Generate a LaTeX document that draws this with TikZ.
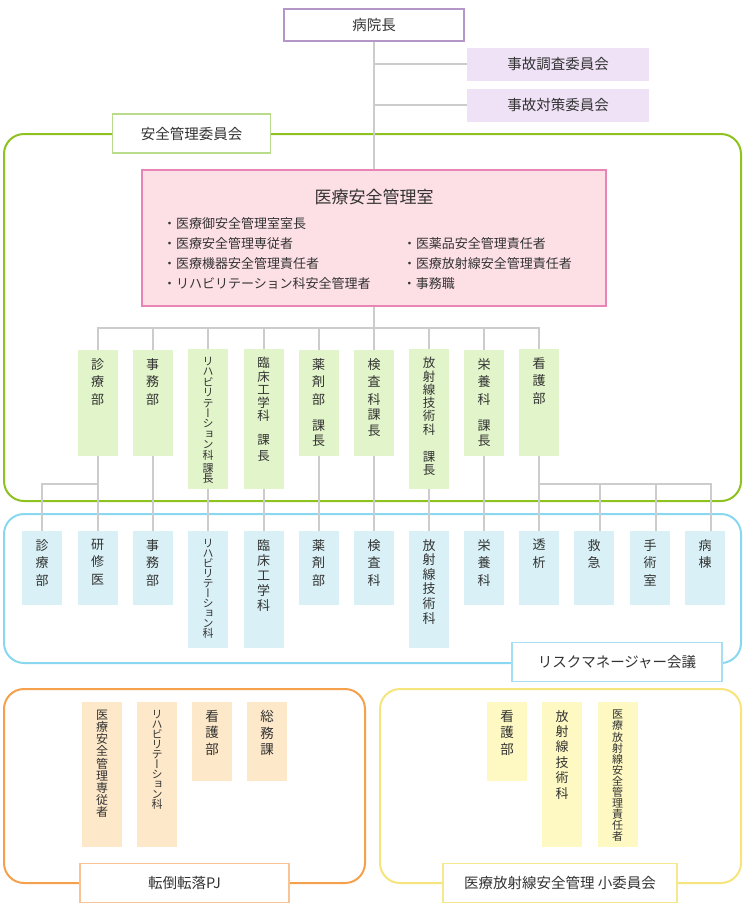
\documentclass[tikz,border=0pt]{standalone}
\usepackage{fontspec}
\setmainfont{Noto Sans CJK JP}
\newfontfamily\vjp[RawFeature=+vert]{Noto Sans CJK JP}
\definecolor{ink}{HTML}{333333}
\definecolor{connline}{HTML}{CCCCCC}
\definecolor{chiefline}{HTML}{B496C8}
\definecolor{jikofill}{HTML}{EFE2F6}
\definecolor{gframe}{HTML}{8DC21F}
\definecolor{glabel}{HTML}{B9DC8C}
\definecolor{gfill}{HTML}{E2F4C9}
\definecolor{roomline}{HTML}{E985B4}
\definecolor{roomfill}{HTML}{FDE0E6}
\definecolor{bframe}{HTML}{8AD8F0}
\definecolor{bfill}{HTML}{D9F1F6}
\definecolor{blabel}{HTML}{A5E0F2}
\definecolor{oframe}{HTML}{F5A04A}
\definecolor{ofill}{HTML}{FDE8C9}
\definecolor{olabel}{HTML}{F9C495}
\definecolor{yframe}{HTML}{F6E47C}
\definecolor{yfill}{HTML}{FEF9C3}
\definecolor{ylabel}{HTML}{F6E88E}
% vertical text column: height, text
\newcommand{\tate}[2]{\parbox[c][#1pt][t]{40pt}{\centering\lineskiplimit=-20pt\vspace*{8pt}#2}}
\tikzstyle{chiefbox} = [draw=chiefline, line width=1.5pt, fill=white, text=ink,
    minimum width=180pt, minimum height=32pt, font=\fontsize{14.5}{16}\selectfont]
\tikzstyle{jikobox} = [fill=jikofill, text=ink, minimum width=182pt, minimum height=33pt,
    font=\fontsize{14.5}{16}\selectfont]
\tikzstyle{tagbox} = [fill=white, text=ink, line width=1.2pt, minimum height=39pt,
    font=\fontsize{14.5}{16}\selectfont]
\tikzstyle{roombox} = [draw=roomline, line width=2pt, fill=roomfill, text=ink,
    minimum width=464pt, minimum height=136pt, inner sep=0pt]
\tikzstyle{tatebox} = [inner sep=0pt, anchor=north, text=ink, font=\vjp\fontsize{13}{17.5}\selectfont]
\tikzstyle{gbox} = [tatebox, fill=gfill]
\tikzstyle{bbox} = [tatebox, fill=bfill]
\tikzstyle{obox} = [tatebox, fill=ofill]
\tikzstyle{ybox} = [tatebox, fill=yfill]
\tikzstyle{frame} = [line width=2pt, rounded corners=20pt]
\tikzstyle{conn} = [draw=connline, line width=2pt]

\begin{document}
\begin{tikzpicture}[x=1pt, y=-1pt]
    \useasboundingbox (0,0) rectangle (745,919);
    % group frames
    \draw[frame, draw=gframe] (4,134) rectangle (741,501);
    \draw[frame, draw=bframe] (4,514) rectangle (741,663);
    \draw[frame, draw=oframe] (4,689) rectangle (365,883);
    \draw[frame, draw=yframe] (380,689) rectangle (741,883);

    \node[chiefbox] (chief) at (374,25) {病院長};
    \node[jikobox] (jiko1) at (558,64) {事故調査委員会};
    \node[jikobox] (jiko2) at (558,105) {事故対策委員会};
    \node[tagbox, draw=glabel, minimum width=158pt] (anzen) at (191.5,133.5) {安全管理委員会};

    \node[roombox] (room) at (374,238) {%
        \fontsize{13}{20}\selectfont
        \begin{tabular}{@{}p{240pt}@{}p{182pt}@{}}
        \multicolumn{2}{c}{\rule{0pt}{22pt}\fontsize{17}{20}\selectfont 医療安全管理室}\\[5pt]
        ・医療御安全管理室室長 & \\
        ・医療安全管理専従者 & ・医薬品安全管理責任者\\
        ・医療機器安全管理責任者 & ・医療放射線安全管理責任者\\
        ・リハビリテーション科安全管理者 & ・事務職
        \end{tabular}};

    % section heads
    \node[gbox] (g1) at (97.5,350) {\tate{106}{診\\療\\部}};
    \node[gbox] (g2) at (152.5,350) {\tate{106}{事\\務\\部}};
    \node[gbox, font=\vjp\fontsize{11}{10.4}\selectfont] (g3) at (208,349)
        {\tate{140}{リ\\ハ\\ビ\\リ\\テ\\ー\\シ\\ョ\\ン\\科\\[3pt]課\\長}};
    \node[gbox, font=\vjp\fontsize{12.5}{13.3}\selectfont] (g4) at (263.5,349)
        {\tate{140}{臨\\床\\工\\学\\科\\[10pt]課\\[3pt]長}};
    \node[gbox] (g5) at (318.5,350) {\tate{106}{薬\\剤\\部\\[9pt]課\\[-3pt]長}};
    \node[gbox] (g6) at (374,350) {\tate{106}{検\\査\\科\\[-2pt]課\\[-2pt]長}};
    \node[gbox, font=\vjp\fontsize{12.5}{13.3}\selectfont] (g7) at (429,349)
        {\tate{140}{放\\射\\線\\技\\術\\科\\[14pt]課\\長}};
    \node[gbox] (g8) at (484,350) {\tate{106}{栄\\養\\科\\[9pt]課\\[-3pt]長}};
    \node[gbox] (g9) at (539,349) {\tate{107}{看\\護\\部}};

    % risk managers
    \node[bbox] (b1) at (42,531) {\tate{74}{診\\療\\部}};
    \node[bbox] (b2) at (97.5,531) {\tate{74}{研\\修\\医}};
    \node[bbox] (b3) at (152.5,531) {\tate{74}{事\\務\\部}};
    \node[bbox, font=\vjp\fontsize{11}{10}\selectfont] (b4) at (208,531)
        {\tate{117}{リ\\ハ\\ビ\\リ\\テ\\ー\\シ\\ョ\\ン\\科}};
    \node[bbox, font=\vjp\fontsize{13}{15}\selectfont] (b5) at (263.5,531)
        {\tate{117}{臨\\床\\工\\学\\科}};
    \node[bbox] (b6) at (318.5,531) {\tate{74}{薬\\剤\\部}};
    \node[bbox] (b7) at (374,531) {\tate{74}{検\\査\\科}};
    \node[bbox, font=\vjp\fontsize{13}{14.6}\selectfont] (b8) at (429,531)
        {\tate{117}{放\\射\\線\\技\\術\\科}};
    \node[bbox] (b9) at (484,531) {\tate{74}{栄\\養\\科}};
    \node[bbox] (b10) at (539,531) {\tate{74}{透\\析}};
    \node[bbox] (b11) at (594,531) {\tate{74}{救\\急}};
    \node[bbox] (b12) at (650,531) {\tate{74}{手\\術\\室}};
    \node[bbox] (b13) at (705,531) {\tate{74}{病\\棟}};
    \node[tagbox, draw=blabel, minimum width=210pt] (risk) at (617,662) {リスクマネージャー会議};

    % fall prevention project
    \node[obox, font=\vjp\fontsize{12}{12.1}\selectfont] (o1) at (102,702)
        {\tate{145}{医\\療\\安\\全\\管\\理\\専\\従\\者}};
    \node[obox, font=\vjp\fontsize{11}{10}\selectfont] (o2) at (157,702)
        {\tate{145}{リ\\ハ\\ビ\\リ\\テ\\ー\\シ\\ョ\\ン\\科}};
    \node[obox, font=\vjp\fontsize{13.5}{16.5}\selectfont] (o3) at (212,702) {\tate{79}{看\\護\\部}};
    \node[obox, font=\vjp\fontsize{13.5}{16.5}\selectfont] (o4) at (267,702) {\tate{79}{総\\務\\課}};
    \node[tagbox, draw=olabel, minimum width=209pt] (tentou) at (184.5,883) {転倒転落PJ};

    % radiation safety subcommittee
    \node[ybox, font=\vjp\fontsize{13.5}{16.5}\selectfont] (y1) at (507,702) {\tate{79}{看\\護\\部}};
    \node[ybox, font=\vjp\fontsize{13}{15.4}\selectfont] (y2) at (562,702)
        {\tate{145}{放\\射\\線\\技\\術\\科}};
    \node[ybox, font=\vjp\fontsize{11}{11.1}\selectfont] (y3) at (617.5,702)
        {\tate{145}{医\\療\\放\\射\\線\\安\\全\\管\\理\\責\\任\\者}};
    \node[tagbox, draw=ylabel, minimum width=234pt] (housha) at (560,883) {医療放射線安全管理 小委員会};

    % connectors
    \draw[conn] (chief.south) -- (room.north);
    \draw[conn] (chief.south |- jiko1.west) -- (jiko1.west);
    \draw[conn] (chief.south |- jiko2.west) -- (jiko2.west);
    \coordinate (bus) at (374,328);
    \draw[conn] (room.south) -- (bus);
    \draw[conn] (bus) -| (g1.north) (bus) -| (g2.north) (bus) -| (g3.north)
        (bus) -| (g4.north) (bus) -| (g5.north) (bus) -| (g7.north)
        (bus) -| (g8.north) (bus) -| (g9.north) (bus) -- (g6.north);
    \draw[conn] (g1.south) -- (b2.north);
    \coordinate (split1) at (97.5,484);
    \draw[conn] (split1) -| (b1.north);
    \draw[conn] (g2.south) -- (b3.north);
    \draw[conn] (g3.south) -- (b4.north);
    \draw[conn] (g4.south) -- (b5.north);
    \draw[conn] (g5.south) -- (b6.north);
    \draw[conn] (g6.south) -- (b7.north);
    \draw[conn] (g7.south) -- (b8.north);
    \draw[conn] (g8.south) -- (b9.north);
    \draw[conn] (g9.south) -- (b10.north);
    \coordinate (split2) at (539,484);
    \draw[conn] (split2) -| ([xshift=6pt]b11.north) (split2) -| ([xshift=6pt]b12.north)
        (split2) -| ([xshift=6pt]b13.north);
\end{tikzpicture}
\end{document}
